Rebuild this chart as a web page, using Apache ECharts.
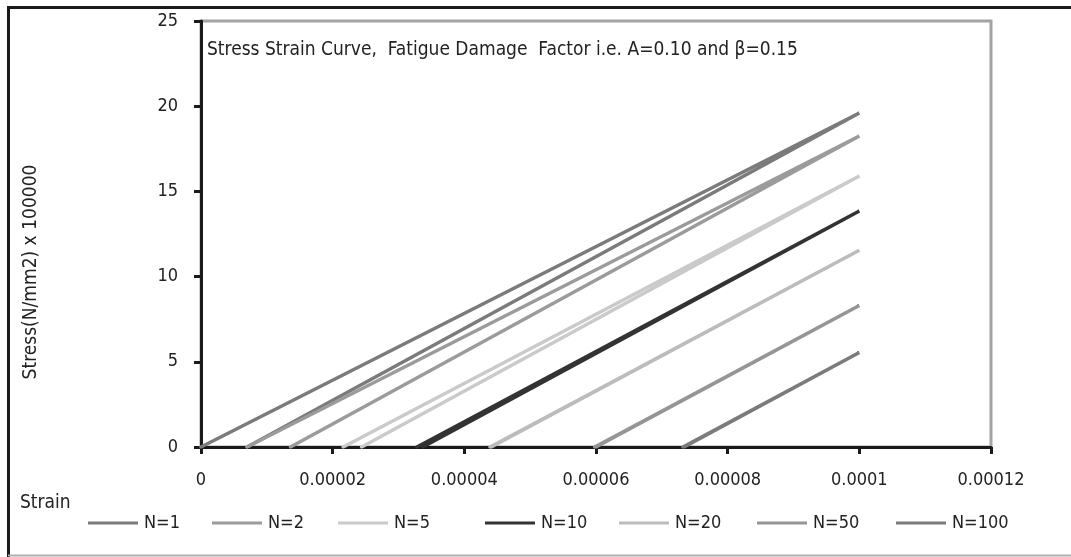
<!DOCTYPE html>
<html>
<head>
<meta charset="utf-8">
<script src="https://cdn.jsdelivr.net/npm/echarts@6/dist/echarts.min.js"></script>
<style>
html,body{margin:0;padding:0;background:#fff;}
#c{width:1071px;height:557px;}
</style>
</head>
<body>
<div id="c"></div>
<script>
// ---- data ----
const seriesNames = ['N=1', 'N=2', 'N=5', 'N=10', 'N=20', 'N=50', 'N=100'];
const seriesColors = ['#7b7b7b', '#9b9b9b', '#cacaca', '#333333', '#bcbcbc', '#959595', '#7b7b7b'];
// each N is drawn as two straight branches meeting at strain 0.0001
const startStrainA = [0, 0.0000136, 0.0000216, 0.0000328, 0.0000439, 0.0000598, 0.0000732];
const startStrainB = [0.0000070, 0.0000070, 0.0000244, 0.0000337, 0.0000441, 0.0000600, 0.0000734];
const endStrain = 0.0001;
const endStress = [19.6, 18.25, 15.9, 13.85, 11.55, 8.3, 5.55];
const xTickLabels = ['0', '0.00002', '0.00004', '0.00006', '0.00008', '0.0001', '0.00012'];
const yTickLabels = ['0', '5', '10', '15', '20', '25'];
const titleText = 'Stress Strain Curve,  Fatigue Damage  Factor i.e. A=0.10 and \u03b2=0.15';
const yName = 'Stress(N/mm2) x 100000';
const xName = 'Strain';
const legendLeft = [88, 212, 338, 485, 619, 757, 896];

const FONT = "'Liberation Sans Narrow', 'DejaVu Sans Condensed', 'Roboto', sans-serif";
const chart = echarts.init(document.getElementById('c'), null, {renderer: 'canvas'});

const series = seriesNames.map((name, i) => ({
  name: name,
  type: 'line',
  showSymbol: false,
  symbol: 'none',
  animation: false,
  lineStyle: {width: 3.5, color: seriesColors[i], cap: 'round'},
  itemStyle: {color: seriesColors[i]},
  data: [[startStrainA[i], 0], [endStrain, endStress[i]], [startStrainB[i], 0]]
}));

const legends = seriesNames.map((name, i) => ({
  data: [name],
  left: legendLeft[i],
  top: 514,
  icon: 'path://M0,0 L50,0 L50,3 L0,3 Z',
  itemWidth: 50,
  itemHeight: 3,
  itemGap: 0,
  padding: 0,
  selectedMode: false,
  textStyle: {fontFamily: FONT, fontSize: 18, color: '#222', padding: [0, 0, 0, 1]}
}));

chart.setOption({
  animation: false,
  backgroundColor: '#fff',
  grid: {left: 201, right: 80, top: 21, bottom: 110, show: true, borderColor: '#a3a3a3', borderWidth: 3, containLabel: false},
  legend: legends,
  xAxis: {
    type: 'value', min: 0, max: 0.00012, interval: 0.00002,
    axisLine: {show: true, onZero: false, lineStyle: {color: '#1a1a1a', width: 3}},
    axisTick: {show: true, length: 7, lineStyle: {color: '#1a1a1a', width: 3}},
    splitLine: {show: false},
    axisLabel: {
      fontFamily: FONT, fontSize: 18, color: '#222', margin: 24,
      formatter: v => xTickLabels[Math.round(v / 0.00002)]
    }
  },
  yAxis: {
    type: 'value', min: 0, max: 25, interval: 5,
    axisLine: {show: true, onZero: false, lineStyle: {color: '#1a1a1a', width: 3}},
    axisTick: {show: true, length: 7, lineStyle: {color: '#1a1a1a', width: 3}},
    splitLine: {show: false},
    axisLabel: {
      fontFamily: FONT, fontSize: 18, color: '#222', margin: 23,
      formatter: v => yTickLabels[Math.round(v / 5)]
    }
  },
  series: series,
  graphic: [
    {type: 'line', shape: {x1: 8.5, y1: 7, x2: 8.5, y2: 557}, style: {stroke: '#1a1a1a', lineWidth: 3}},
    {type: 'line', shape: {x1: 7, y1: 7.5, x2: 1071, y2: 7.5}, style: {stroke: '#1a1a1a', lineWidth: 3}},
    {type: 'line', shape: {x1: 8, y1: 555.5, x2: 1071, y2: 555.5}, style: {stroke: '#b0b0b0', lineWidth: 2}},
    {type: 'text', left: 207, top: 41, style: {text: titleText, font: '19px ' + FONT, fill: '#222'}},
    {type: 'text', x: 31, y: 272, rotation: Math.PI / 2,
      style: {text: yName, font: '19px ' + FONT, fill: '#222', textAlign: 'center', textVerticalAlign: 'middle'}},
    {type: 'text', x: 20, y: 503, style: {text: xName, font: '19px ' + FONT, fill: '#222', textVerticalAlign: 'middle'}}
  ]
});
</script>
</body>
</html>
